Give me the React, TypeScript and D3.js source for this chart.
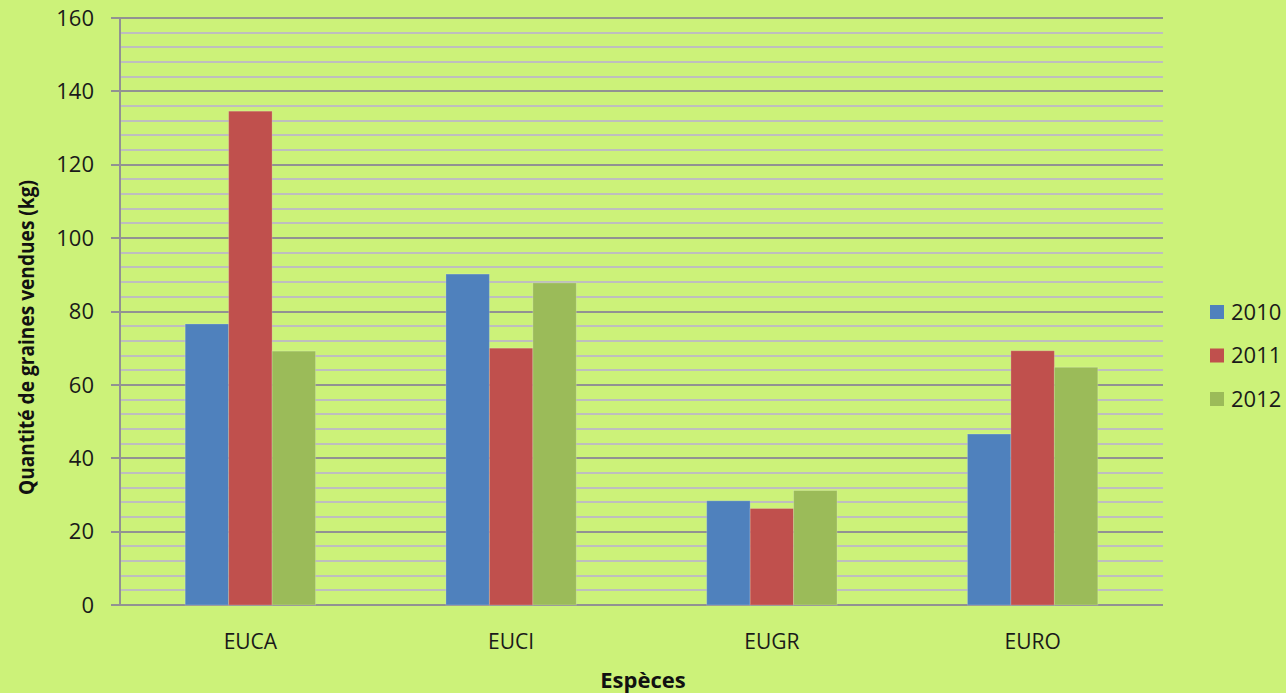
import React, { useEffect, useRef } from "react";
import * as d3 from "d3";

const categories = ["EUCA", "EUCI", "EUGR", "EURO"];
const seriesNames = ["2010", "2011", "2012"];
const values2010 = [76.6, 90.2, 28.4, 46.6];
const values2011 = [134.6, 70.0, 26.3, 69.3];
const values2012 = [69.2, 87.8, 31.2, 64.8];
const seriesColors = ["#4F81BD", "#C0504D", "#9BBB59"];
const yTicks = [0, 20, 40, 60, 80, 100, 120, 140, 160];
const yTitle = "Quantité de graines vendues (kg)";
const xTitle = "Espèces";

const W = 1286;
const H = 693;
const FONT = "'Open Sans', 'DejaVu Sans', sans-serif";

export default function App() {
  const ref = useRef<SVGSVGElement>(null);

  useEffect(() => {
    const svg = d3.select(ref.current);
    svg.selectAll("*").remove();

    const left = 120, right = 1163, top = 18, bottom = 605;
    const series = [values2010, values2011, values2012];

    svg.append("rect").attr("width", W).attr("height", H).attr("fill", "#CCF279");

    const y = d3.scaleLinear().domain([0, 160]).range([bottom, top]);
    const x0 = d3.scaleBand().domain(categories).range([left, right]).paddingInner(0).paddingOuter(0);
    const bw = x0.bandwidth() / 6;

    // minor grid
    const minor = d3.range(0, 161, 4).filter((v) => v % 20 !== 0);
    svg.append("g").attr("shape-rendering", "crispEdges").selectAll("line").data(minor).join("line")
      .attr("x1", left).attr("x2", right)
      .attr("y1", (d) => Math.round(y(d))).attr("y2", (d) => Math.round(y(d)))
      .attr("stroke", "#BEBEBE").attr("stroke-width", 2);
    // major grid
    svg.append("g").attr("shape-rendering", "crispEdges").selectAll("line").data(yTicks).join("line")
      .attr("x1", left - 9).attr("x2", right)
      .attr("y1", (d) => Math.round(y(d))).attr("y2", (d) => Math.round(y(d)))
      .attr("stroke", "#929292").attr("stroke-width", 2);

    // y axis line
    svg.append("line").attr("shape-rendering", "crispEdges").attr("x1", left).attr("x2", left)
      .attr("y1", top).attr("y2", bottom).attr("stroke", "#929292").attr("stroke-width", 2);

    // bars
    series.forEach((vals, si) => {
      svg.append("g").selectAll("rect").data(vals).join("rect")
        .attr("x", (_d, i) => (x0(categories[i]) as number) + x0.bandwidth() / 2 - 1.5 * bw + si * bw)
        .attr("width", bw)
        .attr("y", (d) => y(d))
        .attr("height", (d) => bottom - y(d))
        .attr("fill", seriesColors[si])
        .attr("stroke", "rgba(255,255,255,0.2)")
        .attr("stroke-width", 1);
    });

    // y tick labels
    svg.append("g").selectAll("text").data(yTicks).join("text")
      .attr("x", 94).attr("y", (d) => y(d)).attr("dy", "0.35em")
      .attr("text-anchor", "end").attr("font-family", FONT).attr("font-size", 22)
      .attr("fill", "#1a1a1a").text((d) => String(d));

    // x labels
    svg.append("g").selectAll("text").data(categories).join("text")
      .attr("x", (d) => (x0(d) as number) + x0.bandwidth() / 2).attr("y", 649)
      .attr("text-anchor", "middle").attr("font-family", FONT).attr("font-size", 21)
      .attr("fill", "#1a1a1a").text((d) => d);

    // axis titles
    svg.append("text").attr("x", 643).attr("y", 688).attr("text-anchor", "middle")
      .attr("font-family", FONT).attr("font-size", 22).attr("font-weight", "bold")
      .attr("fill", "#111").text(xTitle);
    svg.append("text").attr("transform", `translate(27,${(180 + 495) / 2}) rotate(-90)`)
      .attr("text-anchor", "middle").attr("dy", "0.35em")
      .attr("font-family", FONT).attr("font-size", 21).attr("font-weight", "bold")
      .attr("fill", "#111").attr("textLength", 315).attr("lengthAdjust", "spacingAndGlyphs")
      .text(yTitle);

    // legend
    const lg = svg.append("g");
    seriesNames.forEach((name, i) => {
      const cy = 312 + i * 43.5;
      lg.append("rect").attr("x", 1210).attr("y", cy - 7).attr("width", 14).attr("height", 14)
        .attr("fill", seriesColors[i]);
      lg.append("text").attr("x", 1231).attr("y", cy).attr("dy", "0.35em")
        .attr("font-family", FONT).attr("font-size", 22).attr("fill", "#1a1a1a").text(name);
    });
  }, []);

  return (
    <svg ref={ref} width={W} height={H} style={{ position: "absolute", left: 0, top: 0, display: "block" }} />
  );
}
